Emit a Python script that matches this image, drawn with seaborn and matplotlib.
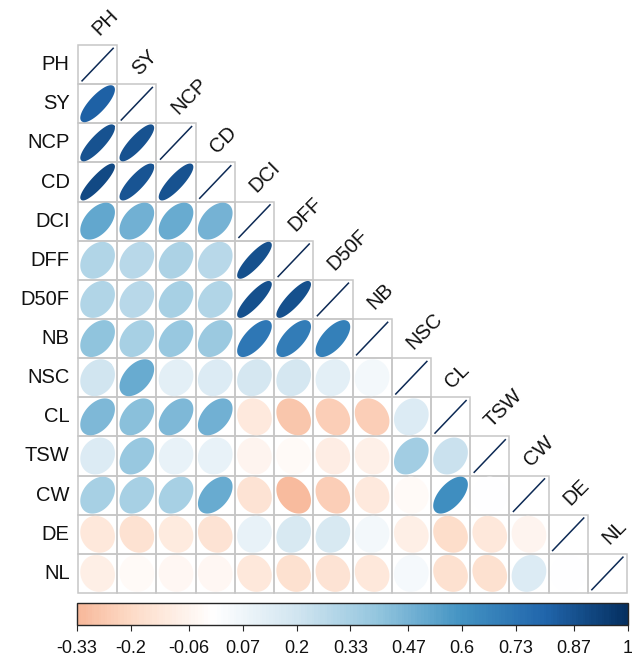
import numpy as np
import pandas as pd
import matplotlib
matplotlib.use('Agg')
import matplotlib.pyplot as plt
import seaborn as sns
from matplotlib.colors import LinearSegmentedColormap, ListedColormap, Normalize
from matplotlib.cm import ScalarMappable
from matplotlib.patches import Rectangle

# variables and lower-triangle correlations
traits = ['PH', 'SY', 'NCP', 'CD', 'DCI', 'DFF', 'D50F', 'NB', 'NSC', 'CL', 'TSW', 'CW', 'DE', 'NL']
r_SY = [0.82]
r_NCP = [0.87, 0.87]
r_CD = [0.90, 0.86, 0.87]
r_DCI = [0.52, 0.48, 0.50, 0.47]
r_DFF = [0.30, 0.28, 0.32, 0.28, 0.88]
r_D50F = [0.30, 0.28, 0.33, 0.30, 0.88, 0.88]
r_NB = [0.40, 0.33, 0.38, 0.37, 0.72, 0.70, 0.68]
r_NSC = [0.20, 0.50, 0.12, 0.15, 0.18, 0.18, 0.12, 0.05]
r_CL = [0.45, 0.42, 0.45, 0.48, -0.12, -0.28, -0.25, -0.25, 0.15]
r_TSW = [0.15, 0.38, 0.10, 0.10, -0.06, -0.03, -0.10, -0.08, 0.35, 0.22]
r_CW = [0.33, 0.33, 0.33, 0.50, -0.15, -0.32, -0.25, -0.12, -0.03, 0.62, 0.00]
r_DE = [-0.13, -0.16, -0.11, -0.15, 0.10, 0.17, 0.17, 0.05, -0.09, -0.18, -0.13, -0.06]
r_NL = [-0.09, -0.03, -0.04, -0.04, -0.13, -0.17, -0.15, -0.13, 0.04, -0.17, -0.17, 0.15, 0.00]
rows = [[], r_SY, r_NCP, r_CD, r_DCI, r_DFF, r_D50F, r_NB, r_NSC, r_CL, r_TSW, r_CW, r_DE, r_NL]

cbar_ticks = [-0.33, -0.2, -0.06, 0.07, 0.2, 0.33, 0.47, 0.6, 0.73, 0.87, 1]
cbar_labels = ['-0.33', '-0.2', '-0.06', '0.07', '0.2', '0.33', '0.47', '0.6', '0.73', '0.87', '1']

n = len(traits)
corr = np.eye(n)
for i, row in enumerate(rows):
    for j, v in enumerate(row):
        corr[i, j] = v
        corr[j, i] = v
corr_df = pd.DataFrame(corr, index=traits, columns=traits)

# corrplot RdBu palette
rdbu = LinearSegmentedColormap.from_list('rdbu', [
    '#67001F', '#B2182B', '#D6604D', '#F4A582', '#FDDBC7', '#FFFFFF',
    '#D1E5F0', '#92C5DE', '#4393C3', '#2166AC', '#053061'])
norm = Normalize(-1, 1)

sns.set_style('white')
plt.rcParams['font.family'] = ['Liberation Sans', 'DejaVu Sans']

fig = plt.figure(figsize=(6.32, 6.64), dpi=100)
ax = fig.add_axes([78 / 632, 1 - 593 / 664, 549 / 632, 548 / 664])

# white base (upper triangle masked)
mask = np.triu(np.ones((n, n), dtype=bool), k=1)
sns.heatmap(corr_df, mask=mask, cmap=ListedColormap(['white']), cbar=False,
            ax=ax, xticklabels=False)
ax.tick_params(axis='y', length=0, pad=6, labelsize=14.5, labelcolor='#111111')
plt.setp(ax.get_yticklabels(), rotation=0)
ax.set_xlabel('')
ax.set_ylabel('')

# grid only around lower-triangle cells
for i in range(n):
    for j in range(i + 1):
        ax.add_patch(Rectangle((j, i), 1, 1, fill=False, ec='#c6c6c6', lw=1.1,
                               clip_on=False, zorder=1))

# ellipses
k = np.linspace(0, 2 * np.pi, 99)
for i in range(n):
    for j in range(i):
        rho = corr[i, j]
        a = np.arccos(rho)
        ex = 0.82 * np.cos(k + a / 2) / 2
        ey = 0.88 * np.cos(k - a / 2) / 2
        col = rdbu(norm(rho))
        ax.fill(j + 0.5 + ex, i + 0.5 - ey, color=col, lw=1.8, ec=col,
                joinstyle='round', zorder=2)
    # diagonal
    ax.plot([i + 0.5 - 0.41, i + 0.5 + 0.41], [i + 0.5 + 0.43, i + 0.5 - 0.43],
            color='#0d2a55', lw=1.1, solid_capstyle='butt', zorder=2)
    ax.text(i + 0.55, i - 0.22, traits[i], rotation=45, rotation_mode='anchor',
            ha='left', va='baseline', fontsize=14.5, color='#111111')

for s in ax.spines.values():
    s.set_visible(False)

# colour legend
lo, hi = cbar_ticks[0], cbar_ticks[-1]
sub = ListedColormap(rdbu(norm(np.linspace(lo, hi, 256))))
cax = fig.add_axes([77 / 632, 1 - 625 / 664, 551 / 632, 22 / 664])
cb = fig.colorbar(ScalarMappable(norm=Normalize(lo, hi), cmap=sub), cax=cax,
                  orientation='horizontal')
cb.set_ticks(cbar_ticks)
cb.set_ticklabels(cbar_labels)
cb.outline.set_linewidth(1.0)
cax.tick_params(length=4, width=0.8, labelsize=13, labelcolor='#111111', pad=7)

fig.savefig('out.png', dpi=100)
